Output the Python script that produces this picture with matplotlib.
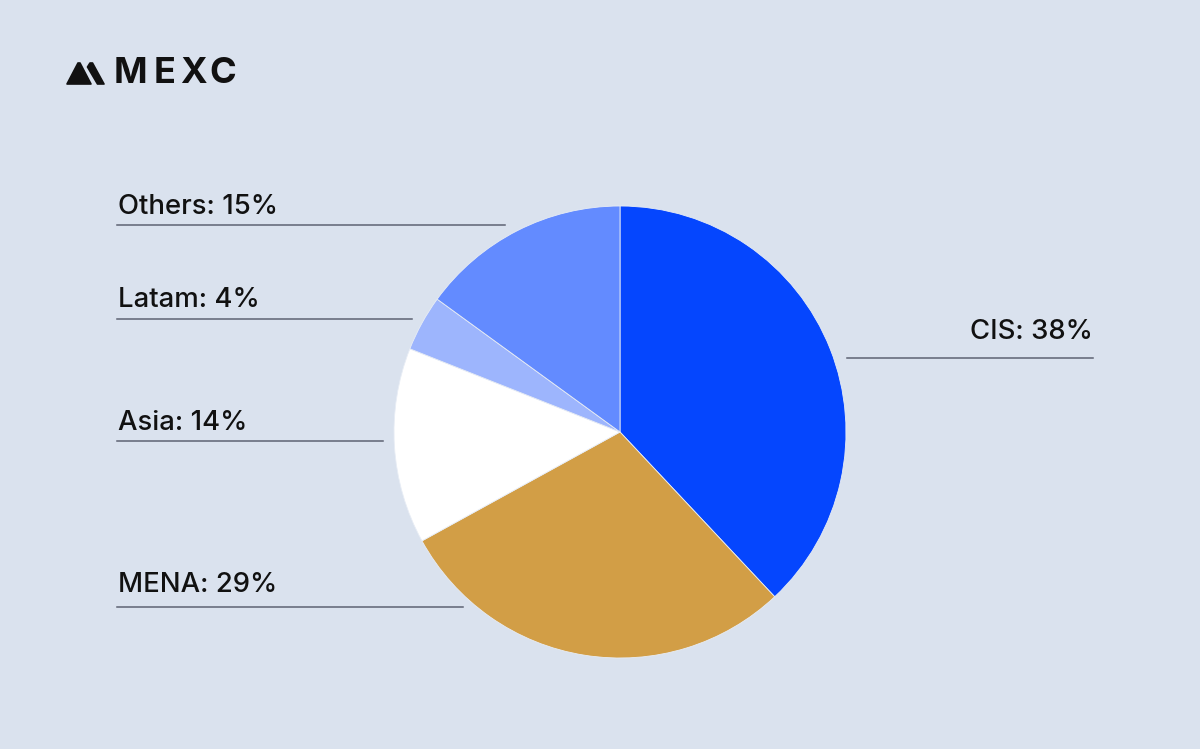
import matplotlib
matplotlib.use("Agg")
import matplotlib.pyplot as plt
from matplotlib.patches import Polygon

regions = ["CIS", "MENA", "Asia", "Latam", "Others"]
shares = [38, 29, 14, 4, 15]
colors = ["#0546fe", "#d29e46", "#ffffff", "#9db5fd", "#638bff"]

BG = "#dae2ee"
W, H = 1200, 749
fig = plt.figure(figsize=(12, 7.49), dpi=100, facecolor=BG)
ax = fig.add_axes([0, 0, 1, 1])
ax.set_xlim(0, W)
ax.set_ylim(0, H)
ax.set_aspect("equal")
ax.axis("off")
ax.set_facecolor(BG)

ax.pie(shares, colors=colors, startangle=90, counterclock=False,
       center=(620, H - 432), radius=226,
       wedgeprops=dict(linewidth=0.6, edgecolor="#e8edf5"))
ax.set_xlim(0, W)
ax.set_ylim(0, H)

# label layout (pixel positions, top-down)
label_pos = {
    "Others": dict(tx=118, ty=207, ha="left", x0=117, x1=505, ly=225),
    "Latam": dict(tx=118, ty=300, ha="left", x0=117, x1=412, ly=319),
    "Asia": dict(tx=118, ty=423, ha="left", x0=117, x1=383, ly=441),
    "MENA": dict(tx=118, ty=585, ha="left", x0=117, x1=463, ly=607),
    "CIS": dict(tx=1093, ty=332, ha="right", x0=847, x1=1093, ly=358),
}
for name, val in zip(regions, shares):
    p = label_pos[name]
    ax.text(p["tx"], H - p["ty"], f"{name}: {val}%", ha=p["ha"], va="center",
            fontsize=19.8, fontweight=500, family=["Inter", "DejaVu Sans"], color="#111111")
    ax.plot([p["x0"], p["x1"]], [H - p["ly"], H - p["ly"]], color="#5d6373", lw=1.1)

# logo mark
ax.add_patch(Polygon([(67, H - 84), (78, H - 63), (80, H - 63), (91, H - 84)],
                     closed=True, facecolor="#111111", edgecolor="#111111",
                     lw=1.2, joinstyle="round"))
ax.add_patch(Polygon([(87.5, H - 67), (90, H - 63), (92.5, H - 63), (104, H - 84), (97.5, H - 84)],
                     closed=True, facecolor="#111111", edgecolor="#111111",
                     lw=1.2, joinstyle="round"))
for letter, cx in zip("MEXC", [130.5, 164.5, 193.5, 222.5]):
    ax.text(cx, H - 73.5, letter, ha="center", va="center", fontsize=26, fontweight="bold",
            family=["Inter", "DejaVu Sans"], color="#111111")

fig.savefig("out.png", dpi=100, facecolor=BG)
